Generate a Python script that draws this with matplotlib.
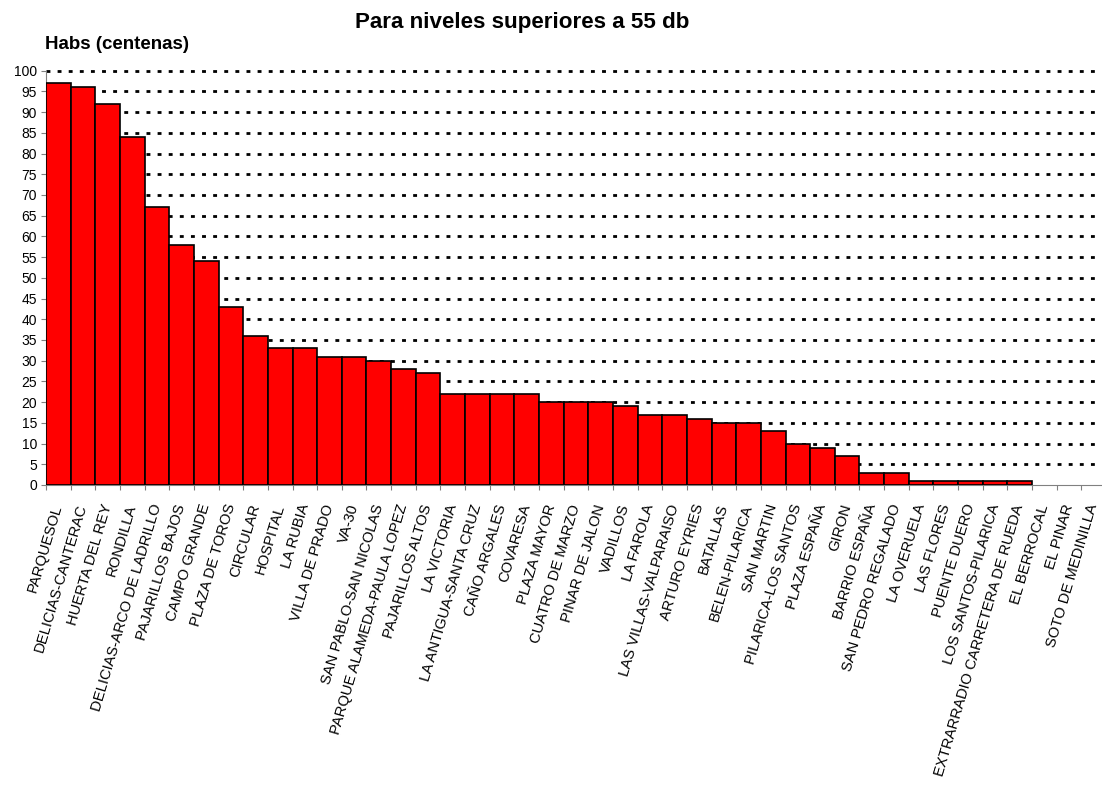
import numpy as np
import matplotlib
matplotlib.use("Agg")
import matplotlib.pyplot as plt

plt.rcParams['font.family'] = ['Liberation Sans', 'DejaVu Sans']

barrios = [
    "PARQUESOL", "DELICIAS-CANTERAC", "HUERTA DEL REY", "RONDILLA",
    "DELICIAS-ARCO DE LADRILLO", "PAJARILLOS BAJOS", "CAMPO GRANDE",
    "PLAZA DE TOROS", "CIRCULAR", "HOSPITAL", "LA RUBIA", "VILLA DE PRADO",
    "VA-30", "SAN PABLO-SAN NICOLAS", "PARQUE ALAMEDA-PAULA LOPEZ",
    "PAJARILLOS ALTOS", "LA VICTORIA", "LA ANTIGUA-SANTA CRUZ",
    "CAÑO ARGALES", "COVARESA", "PLAZA MAYOR", "CUATRO DE MARZO",
    "PINAR DE JALON", "VADILLOS", "LA FAROLA", "LAS VILLAS-VALPARAISO",
    "ARTURO EYRIES", "BATALLAS", "BELEN-PILARICA", "SAN MARTIN",
    "PILARICA-LOS SANTOS", "PLAZA ESPAÑA", "GIRON", "BARRIO ESPAÑA",
    "SAN PEDRO REGALADO", "LA OVERUELA", "LAS FLORES", "PUENTE DUERO",
    "LOS SANTOS-PILARICA", "EXTRARRADIO CARRETERA DE RUEDA",
    "EL BERROCAL", "EL PINAR", "SOTO DE MEDINILLA",
]
habitantes = [
    97, 96, 92, 84, 67, 58, 54, 43, 36, 33, 33, 31, 31, 30, 28, 27,
    22, 22, 22, 22, 20, 20, 20, 19, 17, 17, 16, 15, 15, 13, 10, 9, 7,
    3, 3, 1, 1, 1, 1, 1, 0, 0, 0,
]
yticks = list(range(0, 101, 5))

fig = plt.figure(figsize=(11.02, 7.85), dpi=100)
# plot area runs a little past the right edge, as in the original crop
ax = fig.add_axes([46 / 1102, 0.3822, 1060 / 1102, 0.5278])

x = np.arange(len(barrios))
bordes = [1.2 if v > 0 else 0 for v in habitantes]
ax.bar(x, habitantes, width=1.0, color="#FF0000", edgecolor="black",
       linewidth=bordes, zorder=3)

ax.set_xlim(-0.5, len(barrios) - 0.5)
ax.set_ylim(0, 100)
ax.set_yticks(yticks)
ax.tick_params(axis="y", labelsize=10, length=3.5, color="#808080", pad=3)

# ticks between categories, labels at centres
ax.set_xticks(np.arange(len(barrios) + 1) - 0.5)
ax.set_xticklabels([])
ax.tick_params(axis="x", which="major", length=3.5, color="#808080")
ax.set_xticks(x, minor=True)
ax.set_xticklabels(barrios, minor=True, rotation=73.5, ha="right",
                   va="center", rotation_mode="anchor", fontsize=10.6)
ax.tick_params(axis="x", which="minor", length=0, pad=14)

ax.yaxis.grid(True, color="black", linestyle=(0, (1.4, 2.6)), linewidth=2)
ax.set_axisbelow(True)
grid = ax.get_ygridlines()
grid[0].set_visible(False)
for gl in grid:
    gl.set_clip_on(False)

for s in ["top", "right"]:
    ax.spines[s].set_visible(False)
ax.spines["left"].set_color("#808080")
ax.spines["bottom"].set_color("#808080")

fig.text(522.5 / 1102, 1 - 28 / 785, "Para niveles superiores a 55 db",
         ha="center", va="baseline", fontsize=16.1, fontweight="bold")
fig.text(45 / 1102, 1 - 49 / 785, "Habs (centenas)", ha="left",
         va="baseline", fontsize=13.5, fontweight="bold")

fig.savefig("out.png", dpi=100)
